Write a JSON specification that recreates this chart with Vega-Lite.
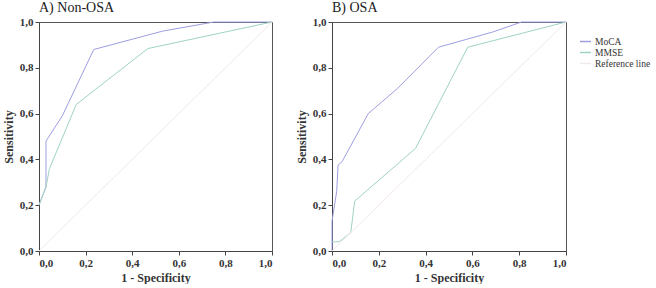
{
  "$schema": "https://vega.github.io/schema/vega-lite/v6.json",
  "padding": {"left": 1, "top": 0, "right": 0, "bottom": 0},
  "background": "white",
  "datasets": {
    "roc": [
      {"panel": "A", "series": "MoCA", "i": 0, "x": 0, "y": 0.2},
      {"panel": "A", "series": "MoCA", "i": 1, "x": 0.03, "y": 0.28},
      {"panel": "A", "series": "MoCA", "i": 2, "x": 0.03, "y": 0.48},
      {"panel": "A", "series": "MoCA", "i": 3, "x": 0.1, "y": 0.59},
      {"panel": "A", "series": "MoCA", "i": 4, "x": 0.235, "y": 0.88},
      {"panel": "A", "series": "MoCA", "i": 5, "x": 0.53, "y": 0.96},
      {"panel": "A", "series": "MoCA", "i": 6, "x": 0.75, "y": 1.0},
      {"panel": "A", "series": "MoCA", "i": 7, "x": 1.0, "y": 1.0},
      {"panel": "A", "series": "MMSE", "i": 0, "x": 0, "y": 0.2},
      {"panel": "A", "series": "MMSE", "i": 1, "x": 0.03, "y": 0.28},
      {"panel": "A", "series": "MMSE", "i": 2, "x": 0.045, "y": 0.36},
      {"panel": "A", "series": "MMSE", "i": 3, "x": 0.16, "y": 0.64},
      {"panel": "A", "series": "MMSE", "i": 4, "x": 0.467, "y": 0.884},
      {"panel": "A", "series": "MMSE", "i": 5, "x": 1.0, "y": 1.0},
      {"panel": "A", "series": "Reference line", "i": 0, "x": 0, "y": 0},
      {"panel": "A", "series": "Reference line", "i": 1, "x": 1, "y": 1},
      {"panel": "B", "series": "MoCA", "i": 0, "x": 0, "y": 0.0},
      {"panel": "B", "series": "MoCA", "i": 1, "x": 0, "y": 0.13},
      {"panel": "B", "series": "MoCA", "i": 2, "x": 0.02, "y": 0.26},
      {"panel": "B", "series": "MoCA", "i": 3, "x": 0.026, "y": 0.375},
      {"panel": "B", "series": "MoCA", "i": 4, "x": 0.043, "y": 0.39},
      {"panel": "B", "series": "MoCA", "i": 5, "x": 0.155, "y": 0.6},
      {"panel": "B", "series": "MoCA", "i": 6, "x": 0.28, "y": 0.71},
      {"panel": "B", "series": "MoCA", "i": 7, "x": 0.455, "y": 0.89},
      {"panel": "B", "series": "MoCA", "i": 8, "x": 0.686, "y": 0.956},
      {"panel": "B", "series": "MoCA", "i": 9, "x": 0.81, "y": 1.0},
      {"panel": "B", "series": "MoCA", "i": 10, "x": 1.0, "y": 1.0},
      {"panel": "B", "series": "MMSE", "i": 0, "x": 0, "y": 0.04},
      {"panel": "B", "series": "MMSE", "i": 1, "x": 0.03, "y": 0.04},
      {"panel": "B", "series": "MMSE", "i": 2, "x": 0.08, "y": 0.08},
      {"panel": "B", "series": "MMSE", "i": 3, "x": 0.097, "y": 0.218},
      {"panel": "B", "series": "MMSE", "i": 4, "x": 0.357, "y": 0.448},
      {"panel": "B", "series": "MMSE", "i": 5, "x": 0.58, "y": 0.89},
      {"panel": "B", "series": "MMSE", "i": 6, "x": 1.0, "y": 1.0},
      {"panel": "B", "series": "Reference line", "i": 0, "x": 0, "y": 0},
      {"panel": "B", "series": "Reference line", "i": 1, "x": 1, "y": 1}
    ]
  },
  "data": {"name": "roc"},
  "config": {
    "font": "Liberation Serif",
    "view": {"stroke": "#555555", "strokeWidth": 1},
    "axis": {
      "grid": false,
      "domainColor": "#444444",
      "tickColor": "#444444",
      "tickSize": 4,
      "labelFont": "Liberation Serif",
      "labelFontSize": 11,
      "labelFontWeight": "bold",
      "labelColor": "#333333",
      "titleFont": "Liberation Serif",
      "titleFontSize": 12,
      "titleFontWeight": "bold",
      "titleColor": "#333333"
    },
    "title": {"font": "Liberation Serif", "fontSize": 14, "fontWeight": "normal", "anchor": "start", "frame": "group", "color": "#222222", "offset": 1}
  },
  "spacing": 19,
  "resolve": {"scale": {"color": "shared"}},
  "hconcat": [
    {
      "width": 233,
      "height": 229,
      "title": {"text": "A) Non-OSA", "frame": "group"},
      "transform": [{"filter": "datum.panel === 'A'"}],
      "mark": {"type": "line", "strokeWidth": 1},
      "encoding": {
        "x": {"field": "x", "type": "quantitative", "scale": {"domain": [0, 1], "nice": false}, "axis": {"title": "1 - Specificity", "values": [0, 0.2, 0.4, 0.6, 0.8, 1], "format": ".1f", "labelExpr": "replace(datum.label, '.', ',')"}},
        "y": {"field": "y", "type": "quantitative", "scale": {"domain": [0, 1], "nice": false}, "axis": {"title": "Sensitivity", "values": [0, 0.2, 0.4, 0.6, 0.8, 1], "format": ".1f", "labelExpr": "replace(datum.label, '.', ',')", "titlePadding": 4}},
        "color": {"field": "series", "type": "nominal", "scale": {"domain": ["MoCA", "MMSE", "Reference line"], "range": ["#9e9ee0", "#9fd4bf", "#f1e8e8"]}},
        "order": {"field": "i", "type": "quantitative"}
      }
    },
    {
      "width": 234,
      "height": 229,
      "title": {"text": "B) OSA", "frame": "group"},
      "transform": [{"filter": "datum.panel === 'B'"}],
      "mark": {"type": "line", "strokeWidth": 1},
      "encoding": {
        "x": {"field": "x", "type": "quantitative", "scale": {"domain": [0, 1], "nice": false}, "axis": {"title": "1 - Specificity", "values": [0, 0.2, 0.4, 0.6, 0.8, 1], "format": ".1f", "labelExpr": "replace(datum.label, '.', ',')"}},
        "y": {"field": "y", "type": "quantitative", "scale": {"domain": [0, 1], "nice": false}, "axis": {"title": "Sensitivity", "values": [0, 0.2, 0.4, 0.6, 0.8, 1], "format": ".1f", "labelExpr": "replace(datum.label, '.', ',')", "titlePadding": 4}},
        "color": {"field": "series", "type": "nominal", "scale": {"domain": ["MoCA", "MMSE", "Reference line"], "range": ["#9e9ee0", "#9fd4bf", "#f1e8e8"]}, "legend": {"title": null, "orient": "none", "legendX": 540, "legendY": 13, "symbolType": "stroke", "symbolSize": 120, "symbolStrokeWidth": 1.5, "labelFont": "Liberation Serif", "labelFontSize": 9.5, "labelFontWeight": "normal", "labelColor": "#333333", "rowPadding": 0, "labelOffset": 3, "padding": 0}},
        "order": {"field": "i", "type": "quantitative"}
      }
    }
  ]
}
